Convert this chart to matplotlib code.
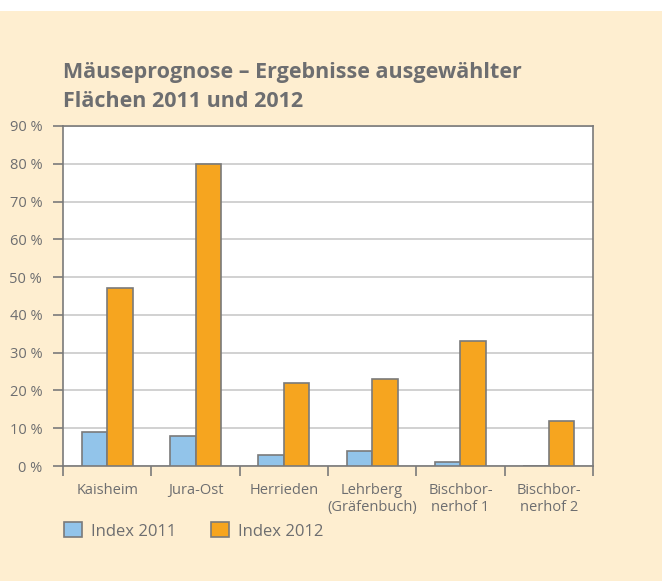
import matplotlib.pyplot as plt
import numpy as np
from matplotlib.patches import Rectangle

plt.rcParams['font.family'] = ['Open Sans', 'DejaVu Sans']

categories = ['Kaisheim', 'Jura-Ost', 'Herrieden', 'Lehrberg\n(Gräfenbuch)',
              'Bischbor-\nnerhof 1', 'Bischbor-\nnerhof 2']
index_2011 = [9, 8, 3, 4, 1, 0]
index_2012 = [47, 80, 22, 23, 33, 12]
yticks = [0, 10, 20, 30, 40, 50, 60, 70, 80, 90]

cream = '#feeed0'
grey = '#6d6e70'
edge = '#7a7a7a'

W, H = 662, 581
fig = plt.figure(figsize=(W / 100, H / 100), dpi=100, facecolor=cream)
# white strip at the top
fig.patches.append(Rectangle((0, 1 - 11 / H), 1, 11 / H, transform=fig.transFigure,
                             facecolor='white', edgecolor='none', zorder=0))

ax = fig.add_axes([63 / W, 1 - 466 / H, 530 / W, 340 / H])
ax.set_facecolor('white')

x = np.arange(len(categories))
w = 0.29
ax.bar(x - w / 2, index_2011, w, color='#92c4ea', edgecolor=edge, linewidth=1.2,
       label='Index 2011', zorder=3)
ax.bar(x + w / 2, index_2012, w, color='#f6a51f', edgecolor=edge, linewidth=1.2,
       label='Index 2012', zorder=3)

ax.set_xlim(-0.5, len(categories) - 0.5)
ax.set_ylim(0, 90)
ax.set_yticks(yticks)
ax.set_yticklabels([f'{t} %' for t in yticks], color=grey, fontsize=10.5)
ax.yaxis.grid(True, color='#c9c9c9', linewidth=1.2, zorder=0)
ax.set_axisbelow(True)

ax.set_xticks(x)
ax.set_xticklabels(categories, color=grey, fontsize=10.5, linespacing=1.2)
ax.tick_params(axis='x', length=0, pad=12)
ax.set_xticks(np.arange(-0.5, len(categories)), minor=True)
ax.tick_params(axis='x', which='minor', length=7, width=1.2, color=edge)
ax.tick_params(axis='y', length=7, width=1.2, color=edge, pad=8)

for s in ax.spines.values():
    s.set_color(edge)
    s.set_linewidth(1.2)

fig.text(63 / W, 1 - 87 / H, 'Mäuseprognose – Ergebnisse ausgewählter\nFlächen 2011 und 2012',
         color=grey, fontsize=15.5, fontweight='bold', va='center', ha='left',
         linespacing=1.5)

fig.legend(loc='center left', bbox_to_anchor=(64 / W, 1 - 531 / H), ncol=2,
           frameon=False, fontsize=12, labelcolor=grey, handlelength=1.08,
           handleheight=1.0, columnspacing=2.1, handletextpad=0.54,
           borderpad=0, borderaxespad=0)

fig.savefig('out.png', dpi=100, facecolor=cream)
